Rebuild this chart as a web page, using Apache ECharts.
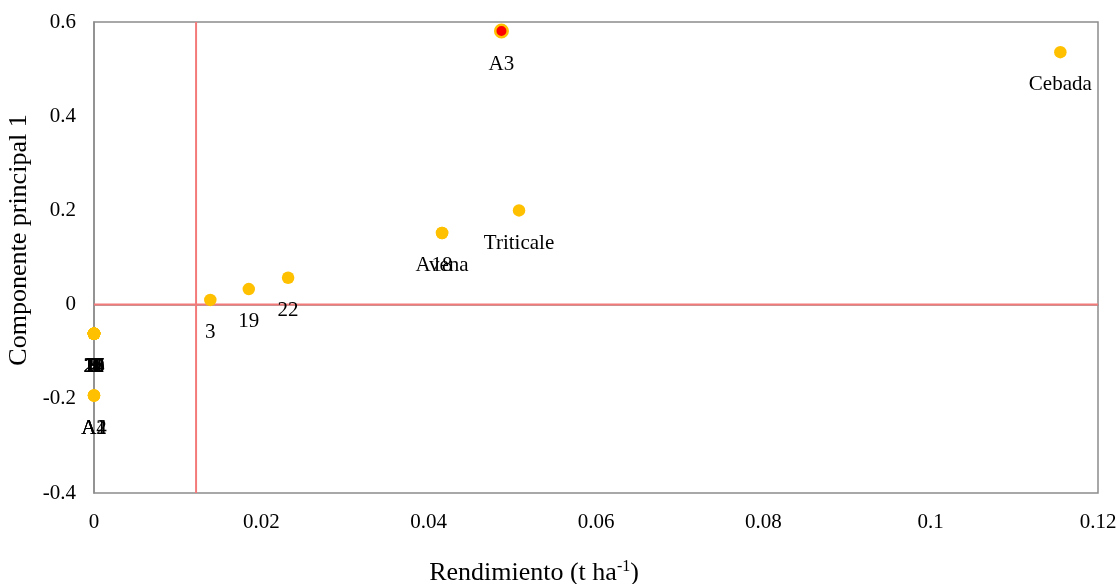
<!DOCTYPE html>
<html>
<head>
<meta charset="utf-8">
<script src="https://cdn.jsdelivr.net/npm/echarts@6/dist/echarts.min.js"></script>
<style>html,body{margin:0;padding:0;background:#fff;}#c{width:1116px;height:584px;}</style>
</head>
<body>
<div id="c"></div>
<script>
// Point names and coordinates
const names = ['1','2','4','5','6','7','8','9','10','11','12','13','14','15','16','17','20','21',
               'A1','A2','A4','3','19','22','Avena','18','Triticale','A3','Cebada'];
const xValues = [0,0,0,0,0,0,0,0,0,0,0,0,0,0,0,0,0,0,
                 0,0,0,0.0139,0.0185,0.0232,0.0416,0.0416,0.0508,0.0487,0.1155];
const yValues = [-0.062,-0.062,-0.062,-0.062,-0.062,-0.062,-0.062,-0.062,-0.062,-0.062,-0.062,-0.062,-0.062,-0.062,-0.062,-0.062,-0.062,-0.062,
                 -0.193,-0.193,-0.193,0.010,0.033,0.057,0.152,0.152,0.200,0.581,0.536];
const highlighted = ['A3'];
const refX = 0.0122;
const refY = 0;
const xTicks = [0,0.02,0.04,0.06,0.08,0.1,0.12];
const yTicks = [-0.4,-0.2,0,0.2,0.4,0.6];

const font = '"Liberation Serif","Times New Roman",serif';
const data = names.map((n,i)=>{
  const d = {name:n, value:[xValues[i], yValues[i]]};
  if (highlighted.includes(n)) d.itemStyle = {color:'#FF0000', borderColor:'#FFC000', borderWidth:2.5};
  return d;
});
const xMin = xTicks[0], xMax = xTicks[xTicks.length-1];
const yMin = yTicks[0], yMax = yTicks[yTicks.length-1];
const refLineStyle = {color:'#F47A7A',width:2,type:'solid'};

const chart = echarts.init(document.getElementById('c'));
chart.setOption({
  animation:false,
  grid:{left:94,right:18,top:22,bottom:91,containLabel:false,outerBoundsMode:'none',show:true,borderColor:'#8c8c8c',borderWidth:1.5},
  xAxis:{
    type:'value',min:xMin,max:xMax,interval:0.02,
    splitLine:{show:false},axisTick:{show:false},
    axisLine:{show:true,lineStyle:{color:'#8c8c8c',width:1.5}},
    axisLabel:{color:'#000',fontFamily:font,fontSize:21,margin:19,formatter:v=>String(+v.toFixed(2))},
    name:'{a|Rendimiento (t ha}{s|-1}{a|)}',nameLocation:'middle',nameGap:66,
    nameTextStyle:{padding:[0,124,0,0],rich:{a:{fontFamily:font,fontSize:26,color:'#000'},s:{fontFamily:font,fontSize:16,color:'#000',verticalAlign:'top',padding:[0,0,12,0]}}}
  },
  yAxis:{
    type:'value',min:yMin,max:yMax,interval:0.2,
    splitLine:{show:false},axisTick:{show:false},
    axisLine:{show:true,lineStyle:{color:'#8c8c8c',width:1.5}},
    axisLabel:{color:'#000',fontFamily:font,fontSize:21,margin:18,formatter:v=>String(+v.toFixed(1))},
    name:'Componente principal 1',nameLocation:'middle',nameGap:50,
    nameTextStyle:{fontFamily:font,fontSize:26,color:'#000',padding:[0,0,0,35]}
  },
  series:[
    {type:'line',data:[[refX,yMin],[refX,yMax]],symbol:'none',lineStyle:refLineStyle,silent:true,z:1},
    {type:'line',data:[[xMin,refY],[xMax,refY]],symbol:'none',lineStyle:refLineStyle,silent:true,z:1},
    {
    type:'scatter',
    clip:false,
    symbolSize:12.5,
    itemStyle:{color:'#FFC000',opacity:1},
    label:{show:true,position:'bottom',distance:16,formatter:p=>p.name,color:'#000',fontFamily:font,fontSize:21},
    data:data,
    z:3
  }]
});
</script>
</body>
</html>
